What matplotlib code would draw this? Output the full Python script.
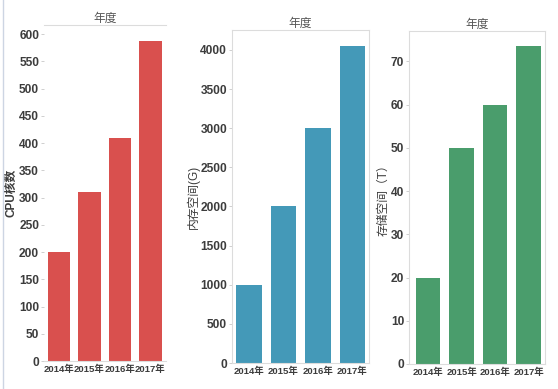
import matplotlib.pyplot as plt
from matplotlib.lines import Line2D

plt.rcParams['font.family'] = ['Liberation Sans', 'Noto Sans CJK SC', 'DejaVu Sans']

years = ['2014年', '2015年', '2016年', '2017年']
cpu = [200, 310, 410, 587]
mem = [1000, 2000, 3000, 4050]
disk = [20, 50, 60, 73.5]

W, H = 558, 389
fig = plt.figure(figsize=(W / 100, H / 100), dpi=100)
fig.patch.set_facecolor('white')


def box(l, r, t, b):
    # pixel box -> figure fraction
    return [l / W, (H - b) / H, (r - l) / W, (b - t) / H]


def panel(rect, vals, color, ylabel, ylim, ticks, xlim, lab_x, title_pad, bold_label, framed):
    ax = fig.add_axes(box(*rect))
    ax.bar(range(len(years)), vals, width=0.74, color=color, zorder=2)
    ax.set_xlim(*xlim)
    ax.set_ylim(*ylim)
    ax.set_yticks(ticks)
    ax.set_xticks(range(len(years)))
    ax.set_xticklabels(years, fontsize=6.8, fontweight='bold', color='#3c3c3c')
    for t in ax.get_yticklabels():
        t.set_fontsize(8.6)
        t.set_fontweight('bold')
        t.set_color('#3c3c3c')
    ax.tick_params(axis='y', length=2.5, width=0.6, color='#c8c8c8', pad=1)
    ax.tick_params(axis='x', length=0, pad=3)
    for s in ax.spines.values():
        s.set_color('#dcdcdc')
        s.set_linewidth(0.8)
    if not framed:
        ax.spines['left'].set_visible(False)
        ax.spines['right'].set_visible(False)
    ax.set_title('年度', fontsize=8.5, color='#555555', pad=title_pad)
    ax.set_ylabel(ylabel, fontsize=8.5, color='#3c3c3c',
                  fontweight='bold' if bold_label else 'normal')
    ax.yaxis.set_label_coords(lab_x, 0.5)
    return ax


panel((44, 166, 25, 361), cpu, '#D9504E', 'CPU核数', (0, 617), range(0, 601, 50),
      (-0.49, 3.51), -0.215, 1, True, False)
panel((232, 369, 30, 363), mem, '#4499B8', '内存空间(G)', (0, 4255), range(0, 4001, 500),
      (-0.49, 3.48), -0.235, 0, False, True)
panel((409, 545, 31, 364), disk, '#4A9D6C', '存储空间（T）', (0, 77), range(0, 71, 10),
      (-0.57, 3.49), -0.145, 1, False, True)

fig.add_artist(Line2D([3 / W, 3 / W], [0, 1], color='#cdd5e3', linewidth=1))

fig.savefig('out.png', dpi=100)
